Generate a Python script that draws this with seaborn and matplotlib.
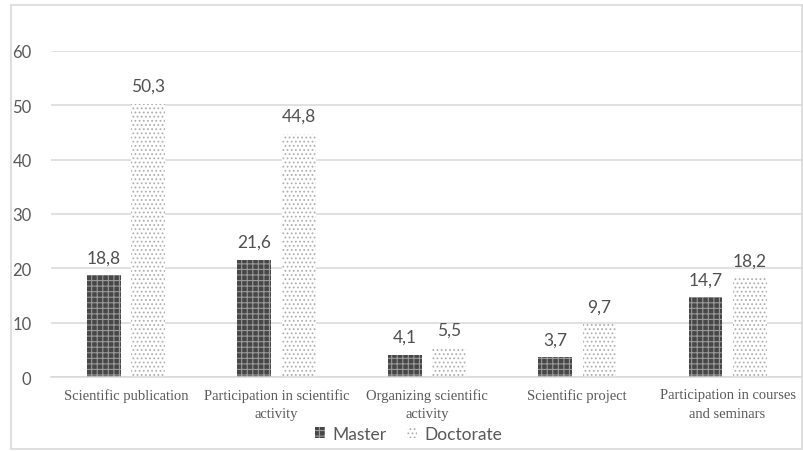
import matplotlib
matplotlib.use("Agg")
import matplotlib.pyplot as plt
from matplotlib.patches import Patch, Rectangle
import seaborn as sns
import pandas as pd

categories = [
    "Scientific publication",
    "Participation in scientific\nactivity",
    "Organizing scientific\nactivity",
    "Scientific project",
    "Participation in courses\nand seminars",
]
master = [18.8, 21.6, 4.1, 3.7, 14.7]
doctorate = [50.3, 44.8, 5.5, 9.7, 18.2]
series = ["Master", "Doctorate"]
y_ticks = [0, 10, 20, 30, 40, 50, 60]

df = pd.DataFrame({
    "category": categories * 2,
    "value": master + doctorate,
    "level": [series[0]] * len(categories) + [series[1]] * len(categories),
})

sns.set_theme(style="white")
plt.rcParams["font.family"] = ["Lato", "DejaVu Sans"]
plt.rcParams["hatch.linewidth"] = 0.8

fig = plt.figure(figsize=(8.04, 4.52), dpi=100)
ax = fig.add_axes([0.0634, 0.1637, 0.935, 0.7213])

sns.barplot(data=df, x="category", y="value", hue="level", order=categories,
            hue_order=series, width=0.59, gap=0.24, ax=ax, legend=False,
            errorbar=None)

styles = {
    "Master": dict(facecolor="#474747", edgecolor="#9a9a9a", hatch="+++"),
    "Doctorate": dict(facecolor="white", edgecolor="#b0b0b0", hatch="...."),
}
for container, name, vals in zip(ax.containers, series, [master, doctorate]):
    for bar in container:
        bar.set_facecolor(styles[name]["facecolor"])
        bar.set_edgecolor(styles[name]["edgecolor"])
        bar.set_hatch(styles[name]["hatch"])
        bar.set_linewidth(0)
    ax.bar_label(container, labels=[f"{v:.1f}".replace(".", ",") for v in vals],
                 padding=7, fontsize=12.5, color="#505050")

ax.set_ylim(0, 60)
ax.set_yticks(y_ticks)
ax.set_xlim(-0.5, len(categories) - 0.5)
ax.yaxis.grid(True, color="#d9d9d9", linewidth=1.1)
ax.set_axisbelow(True)
for side in ["left", "right", "top"]:
    ax.spines[side].set_visible(False)
ax.spines["bottom"].set_color("#d9d9d9")
ax.spines["bottom"].set_linewidth(1.1)

ax.set_xlabel("")
ax.set_ylabel("")
ax.tick_params(axis="y", length=0, pad=14, labelsize=12, labelcolor="#595959")
ax.set_xticks(range(len(categories)))
ax.set_xticklabels(categories, family=["Liberation Serif"], fontsize=10.5,
                   color="#595959", linespacing=1.55)
ax.tick_params(axis="x", which="major", length=0, pad=8)
ax.set_xticks([i - 0.5 for i in range(len(categories) + 1)], minor=True)
ax.tick_params(axis="x", which="minor", length=5, color="#d9d9d9", width=1.1)

handles = [
    Patch(facecolor=styles[s]["facecolor"], edgecolor=styles[s]["edgecolor"],
          hatch=styles[s]["hatch"], linewidth=0, label=s)
    for s in series
]
fig.legend(handles=handles, loc="center", bbox_to_anchor=(0.508, 0.038),
           ncol=2, frameon=False, fontsize=12.5, labelcolor="#595959",
           handlelength=0.6, handleheight=0.6, handletextpad=0.4,
           columnspacing=1.2)

fig.patches.append(Rectangle((11 / 804, 2 / 452), 791 / 804, 444 / 452,
                             transform=fig.transFigure, fill=False,
                             edgecolor="#d9d9d9", linewidth=1.2))

fig.savefig("out.png", dpi=100)
